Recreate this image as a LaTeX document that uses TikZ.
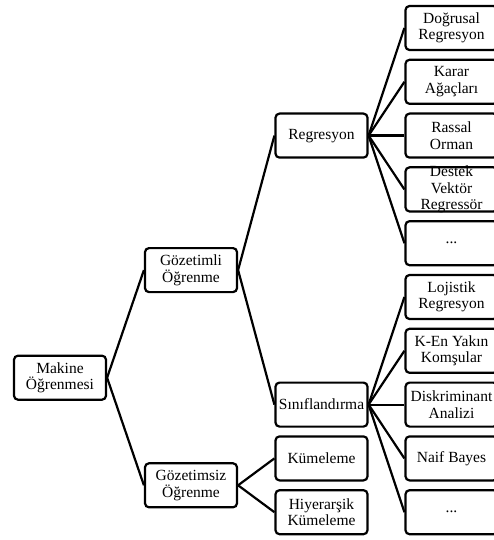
\documentclass[tikz,border=0pt]{standalone}
\usepackage{fontspec}
\setmainfont{Liberation Serif}

\begin{document}
\begin{tikzpicture}[x=1pt, y=-1pt, line width=2.2pt,
  kutu/.style={draw, rounded corners=4pt, minimum width=92pt, minimum height=44pt,
    align=center, inner sep=1pt, font=\fontsize{15.5}{16.5}\selectfont}]

\useasboundingbox (0,0) rectangle (493,540);

\node [kutu] (makine) at (60,377.7) {Makine\\Öğrenmesi};

\node [kutu] (gozetimli) at (191,270.1) {Gözetimli\\Öğrenme};
\node [kutu] (gozetimsiz) at (191,485.3) {Gözetimsiz\\Öğrenme};

\node [kutu] (regresyon) at (321.5,135.6) {Regresyon};
\node [kutu] (sinif) at (321.5,404.6) {Sınıflandırma};
\node [kutu] (kumeleme) at (321.5,458.4) {Kümeleme};
\node [kutu] (hiyerarsik) at (321.5,512.2) {Hiyerarşik\\Kümeleme};

\node [kutu] (dogrusal) at (451.5,28) {Doğrusal\\Regresyon};
\node [kutu] (karar) at (451.5,81.8) {Karar\\Ağaçları};
\node [kutu] (rassal) at (451.5,135.6) {Rassal\\Orman};
\node [kutu, inner ysep=-1.5pt] (destek) at (451.5,189.4) {Destek\\Vektör\\Regressör};
\node [kutu] (rdiger) at (451.5,243.2) {...};
\node [kutu] (lojistik) at (451.5,297) {Lojistik\\Regresyon};
\node [kutu] (kenyakin) at (451.5,350.8) {K-En Yakın\\Komşular};
\node [kutu] (diskrim) at (451.5,404.6) {Diskriminant\\Analizi};
\node [kutu] (naif) at (451.5,458.4) {Naif Bayes};
\node [kutu] (sdiger) at (451.5,512.2) {...};

\draw (makine.east) -- (gozetimli.west);
\draw (makine.east) -- (gozetimsiz.west);

\draw (gozetimli.east) -- (regresyon.west);
\draw (gozetimli.east) -- (sinif.west);
\draw (gozetimsiz.east) -- (kumeleme.west);
\draw (gozetimsiz.east) -- (hiyerarsik.west);

\draw (regresyon.east) -- (dogrusal.west);
\draw (regresyon.east) -- (karar.west);
\draw (regresyon.east) -- (rassal.west);
\draw (regresyon.east) -- (destek.west);
\draw (regresyon.east) -- (rdiger.west);

\draw (sinif.east) -- (lojistik.west);
\draw (sinif.east) -- (kenyakin.west);
\draw (sinif.east) -- (diskrim.west);
\draw (sinif.east) -- (naif.west);
\draw (sinif.east) -- (sdiger.west);

\end{tikzpicture}
\end{document}
